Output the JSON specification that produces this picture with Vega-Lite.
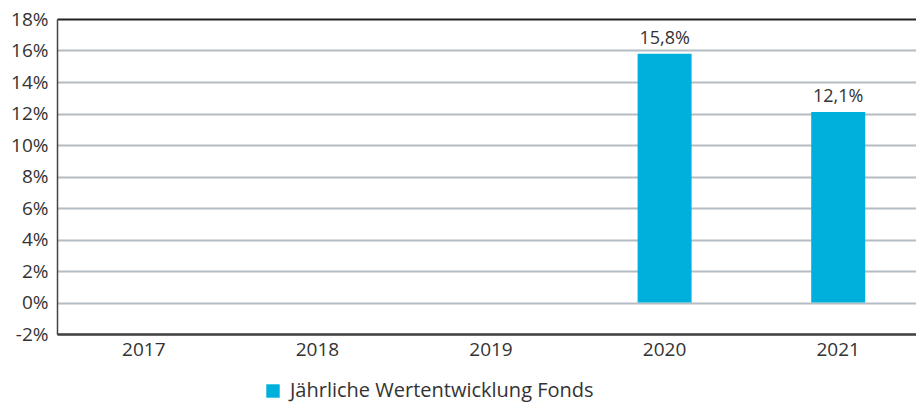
{
  "$schema": "https://vega.github.io/schema/vega-lite/v6.json",
  "width": 868,
  "height": 315,
  "autosize": {"type": "none"},
  "padding": {"left": 57, "top": 19, "right": 0, "bottom": 69},
  "background": "white",
  "config": {
    "view": {"stroke": null},
    "font": "Open Sans",
    "axis": {"labelFont": "Open Sans", "labelColor": "#333333", "labelFontSize": 19}
  },
  "data": {
    "values": [
      {"year": "2017", "value": null, "label": "", "series": "Jährliche Wertentwicklung Fonds"},
      {"year": "2018", "value": null, "label": "", "series": "Jährliche Wertentwicklung Fonds"},
      {"year": "2019", "value": null, "label": "", "series": "Jährliche Wertentwicklung Fonds"},
      {"year": "2020", "value": 15.8, "label": "15,8%", "series": "Jährliche Wertentwicklung Fonds"},
      {"year": "2021", "value": 12.1, "label": "12,1%", "series": "Jährliche Wertentwicklung Fonds"}
    ]
  },
  "encoding": {
    "x": {
      "field": "year", "type": "nominal",
      "scale": {"domain": ["2017", "2018", "2019", "2020", "2021"], "paddingInner": 0.689, "paddingOuter": 0.3445},
      "axis": {"title": null, "labelAngle": 0, "domainColor": "#444444", "domainWidth": 2, "ticks": false, "labelPadding": 6, "grid": false}
    },
    "y": {
      "field": "value", "type": "quantitative",
      "scale": {"domain": [-2, 18], "nice": false, "zero": false},
      "axis": {
        "title": null, "values": [-2, 0, 2, 4, 6, 8, 10, 12, 14, 16, 18],
        "labelExpr": "datum.value + '%'",
        "domainColor": "#444444", "domainWidth": 1.5, "ticks": false, "labelPadding": 9,
        "gridColor": {"condition": {"test": "datum.value == 18 || datum.value == -2", "value": "#222222"}, "value": "#b4bcc4"},
        "gridWidth": 2
      }
    }
  },
  "layer": [
    {
      "mark": {"type": "bar"},
      "encoding": {
        "y2": {"datum": 0},
        "color": {
          "field": "series", "type": "nominal",
          "scale": {"range": ["#00b0dc"]},
          "legend": {
            "title": null, "orient": "none", "legendX": 206, "legendY": 362,
            "symbolType": "square", "symbolSize": 180, "symbolStrokeWidth": 0,
            "labelFontSize": 20, "labelColor": "#333333", "labelFont": "Open Sans", "labelOffset": 7, "labelLimit": 0
          }
        }
      }
    },
    {
      "mark": {"type": "text", "baseline": "alphabetic", "dy": -10, "fontSize": 18, "color": "#333333", "font": "Open Sans"},
      "encoding": {"text": {"field": "label"}}
    }
  ]
}
